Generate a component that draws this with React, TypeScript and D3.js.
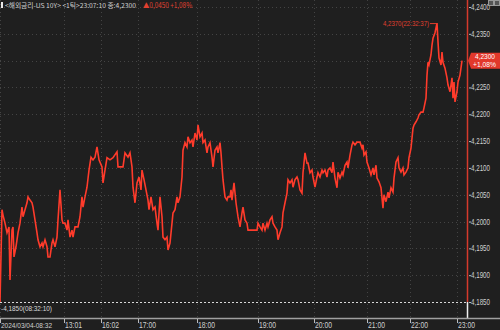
import React from "react";
import * as d3 from "d3";

// tick sequence number (trade count) and yield values
const seq = [0, 2, 3, 5, 7, 9, 10, 12, 13, 14, 16, 18, 20, 22, 23, 25, 27, 28, 30, 32, 33, 35, 37, 38, 40, 42, 43, 45, 47, 48, 50, 52, 53, 55, 57, 58, 60, 62, 63, 65, 67, 68, 70, 72, 73, 75, 78, 80, 82, 83, 85, 87, 89, 91, 93, 95, 97, 99, 102, 103, 105, 107, 110, 113, 117, 118, 121, 123, 125, 128, 130, 132, 133, 135, 137, 139, 141, 142, 144, 146, 148, 149, 151, 153, 155, 157, 158, 160, 162, 163, 165, 167, 168, 170, 172, 173, 175, 177, 178, 180, 182, 183, 185, 187, 188, 190, 192, 193, 195, 197, 198, 200, 202, 203, 205, 207, 208, 210, 212, 213, 215, 217, 218, 220, 221, 222, 223, 225, 227, 228, 230, 231, 232, 234, 236, 237, 238, 240, 242, 243, 245, 247, 248, 250, 253, 257, 258, 260, 262, 263, 265, 267, 268, 270, 272, 273, 275, 277, 278, 280, 282, 283, 285, 287, 288, 290, 292, 293, 295, 297, 298, 300, 302, 303, 305, 307, 308, 310, 312, 313, 315, 317, 318, 320, 322, 323, 325, 327, 328, 330, 332, 333, 335, 337, 338, 340, 342, 343, 345, 347, 348, 350, 352, 353, 355, 357, 360, 362, 363, 364, 366, 367, 369, 371, 373, 374, 376, 377, 379, 381, 382, 383, 384, 386, 388, 389, 391, 393, 394, 396, 398, 399, 401, 403, 404, 406, 408, 409, 411, 413, 414, 416, 418, 419, 421, 423, 424, 426, 427, 428, 429, 431, 432, 433, 435, 436, 437, 438, 439, 441, 442, 443, 445, 447, 448, 450, 452, 453, 454, 455, 457, 458, 460, 462];
const yields = [4.185, 4.2022, 4.2012, 4.1997, 4.1979, 4.199, 4.1891, 4.1984, 4.199, 4.1934, 4.1953, 4.1979, 4.1997, 4.2027, 4.2009, 4.2022, 4.2035, 4.2046, 4.204, 4.2035, 4.2027, 4.2003, 4.1979, 4.1966, 4.1953, 4.196, 4.1953, 4.1966, 4.1953, 4.1934, 4.1934, 4.196, 4.1966, 4.1953, 4.1971, 4.2003, 4.2059, 4.2003, 4.1997, 4.1997, 4.1984, 4.2003, 4.1971, 4.1984, 4.1971, 4.199, 4.199, 4.2009, 4.2046, 4.2027, 4.2046, 4.2064, 4.2096, 4.212, 4.2115, 4.212, 4.2139, 4.2115, 4.2102, 4.2072, 4.2096, 4.2119, 4.2115, 4.2119, 4.213, 4.2102, 4.2102, 4.2102, 4.2128, 4.212, 4.2128, 4.2102, 4.2064, 4.2035, 4.2072, 4.2083, 4.2059, 4.2096, 4.2078, 4.2059, 4.204, 4.2022, 4.2046, 4.2022, 4.2027, 4.1997, 4.1984, 4.2046, 4.2009, 4.1971, 4.1966, 4.1971, 4.1947, 4.196, 4.1997, 4.2016, 4.2022, 4.2046, 4.2035, 4.2046, 4.2083, 4.2133, 4.2147, 4.2139, 4.2158, 4.2147, 4.2152, 4.2139, 4.2165, 4.2152, 4.218, 4.2158, 4.2165, 4.2147, 4.2152, 4.2128, 4.2139, 4.2147, 4.212, 4.2102, 4.2133, 4.2139, 4.2128, 4.2147, 4.2128, 4.2102, 4.2078, 4.2046, 4.204, 4.2046, 4.2046, 4.2059, 4.204, 4.2072, 4.2035, 4.2022, 4.2009, 4.199, 4.2016, 4.2027, 4.2003, 4.1997, 4.1984, 4.1984, 4.1984, 4.1984, 4.1997, 4.199, 4.1984, 4.1997, 4.1984, 4.1997, 4.199, 4.2003, 4.2009, 4.1997, 4.199, 4.1984, 4.1966, 4.1979, 4.199, 4.2016, 4.2035, 4.2053, 4.2078, 4.2072, 4.2078, 4.2064, 4.2078, 4.2083, 4.2078, 4.2059, 4.2053, 4.2091, 4.2128, 4.2109, 4.2109, 4.2091, 4.2096, 4.2083, 4.2064, 4.2083, 4.2091, 4.2083, 4.2096, 4.2091, 4.2096, 4.2083, 4.2096, 4.21, 4.2091, 4.2111, 4.2081, 4.2063, 4.2092, 4.2081, 4.2092, 4.2087, 4.2105, 4.2111, 4.21, 4.2124, 4.2143, 4.2148, 4.2143, 4.2148, 4.2148, 4.2137, 4.2143, 4.2124, 4.213, 4.2111, 4.21, 4.2087, 4.21, 4.2087, 4.2105, 4.2081, 4.2074, 4.2063, 4.2044, 4.2025, 4.205, 4.2037, 4.2055, 4.2044, 4.2063, 4.2055, 4.2081, 4.2111, 4.2119, 4.21, 4.2092, 4.21, 4.2087, 4.2092, 4.21, 4.2119, 4.2137, 4.2174, 4.218, 4.2186, 4.2193, 4.2199, 4.2204, 4.2204, 4.2212, 4.223, 4.2273, 4.2297, 4.2292, 4.2311, 4.2329, 4.2342, 4.2352, 4.2361, 4.237, 4.2335, 4.2305, 4.2292, 4.2316, 4.2297, 4.2286, 4.2268, 4.2255, 4.2242, 4.2268, 4.223, 4.226, 4.2223, 4.2242, 4.226, 4.2273, 4.23];

const xTickSeq = [0, 64, 101, 138, 197, 258, 314, 367, 410, 457];
const xTickLabels = ["2024/03/04-08:32", "13:01", "16:02", "17:00", "18:00", "19:00", "20:00", "21:00", "22:00", "23:00"];
const yTicks = [4.24, 4.235, 4.23, 4.225, 4.22, 4.215, 4.21, 4.205, 4.2, 4.195, 4.19, 4.185];
const lastSeq = 467;
const lastValue = 4.23;
const change = "0,0450";
const changePct = "+1,08%";
const maxValue = 4.237;
const maxTime = "22:32:37";
const minValue = 4.185;
const minTime = "08:32:10";

const fmt = (v: number) => v.toFixed(4).replace(".", ",");

export default function App() {
  const W = 500, H = 330;
  const x = d3.scaleLinear().domain([0, lastSeq]).range([0, 467]);
  const y = d3.scaleLinear().domain([4.185, 4.24]).range([302, 7]);
  const pts = seq.map((s, i) => [x(s), y(yields[i])] as [number, number]);
  const line = d3.line()(pts) || "";
  const axisY = 318;
  const px = x(lastSeq);
  const maxIdx = yields.indexOf(d3.max(yields) as number);
  const mx = x(seq[maxIdx]);
  const my = y(maxValue);
  const cy = y(lastValue);
  const font = "'Liberation Sans', Arial, sans-serif";
  const kfont = "'Liberation Sans Narrow', 'Noto Sans CJK KR', 'Liberation Sans', sans-serif";
  const red = "#ff3b2b";

  return (
    <svg width={W} height={H} style={{ position: "fixed", left: 0, top: 0, display: "block" }}>
      <rect x={0} y={0} width={W} height={H} fill="#1f1f1f" />
      {/* grid */}
      {yTicks.map((t) => (
        <line key={"gy" + t} x1={0} x2={px} y1={Math.round(y(t)) + 0.5} y2={Math.round(y(t)) + 0.5}
          stroke="#444" strokeDasharray="1,3" strokeWidth={1} />
      ))}
      {xTickSeq.map((s) => (
        <line key={"gx" + s} x1={Math.round(x(s)) + 0.5} x2={Math.round(x(s)) + 0.5} y1={0} y2={axisY}
          stroke="#444" strokeDasharray="1,3" strokeWidth={1} />
      ))}
      {/* min dashed line */}
      <line x1={0} x2={px} y1={Math.round(y(minValue)) + 0.5} y2={Math.round(y(minValue)) + 0.5}
        stroke="#d8d8d8" strokeDasharray="2,2" strokeWidth={1} />
      {/* price line */}
      <path d={line} fill="none" stroke={red} strokeWidth={1.6} strokeLinejoin="miter" />
      {/* current vertical line */}
      <line x1={px + 0.5} x2={px + 0.5} y1={0} y2={y(minValue)} stroke="#d63a2c" strokeWidth={1.5} />
      <line x1={px + 0.5} x2={px + 0.5} y1={y(minValue)} y2={axisY} stroke="#f0f0f0" strokeWidth={1.5} />
      {/* x axis */}
      <line x1={0} x2={W} y1={axisY + 0.5} y2={axisY + 0.5} stroke="#a0a0a0" strokeWidth={1.6} />
      {xTickSeq.map((s, i) => {
        const long = xTickLabels[i].length > 6;
        return (
          <g key={"xt" + s}>
            <line x1={x(s) + 0.5} x2={x(s) + 0.5} y1={axisY + 1} y2={axisY + 5} stroke="#bbb" strokeWidth={1} />
            <text x={x(s) + 1} y={328} fontSize={long ? 6.8 : 8.5} fill="#cfcfcf" fontFamily={font}
              textLength={long ? 51 : 17} lengthAdjust="spacingAndGlyphs">{xTickLabels[i]}</text>
          </g>
        );
      })}
      {/* y axis labels */}
      {yTicks.filter((t) => Math.abs(y(t) - cy) > 8).map((t) => (
        <g key={"yt" + t}>
          <line x1={px + 2} x2={px + 4} y1={y(t) + 0.5} y2={y(t) + 0.5} stroke="#bbb" strokeWidth={1} />
          <text x={471} y={y(t) + 3} fontSize={8.5} fill="#cfcfcf" fontFamily={font}
            textLength={19} lengthAdjust="spacingAndGlyphs">{fmt(t)}</text>
        </g>
      ))}
      {/* current price box */}
      <path d={`M${px + 1},${cy} L${px + 4},${cy - 8} L${W},${cy - 8} L${W},${cy + 8} L${px + 4},${cy + 8} Z`} fill="#e2382b" />
      <text x={475} y={cy - 1.5} fontSize={7} fill="#fff" fontFamily={font} textLength={20} lengthAdjust="spacingAndGlyphs">{fmt(lastValue)}</text>
      <text x={473} y={cy + 6.5} fontSize={7} fill="#fff" fontFamily={font} textLength={23} lengthAdjust="spacingAndGlyphs">{changePct}</text>
      {/* max label */}
      <text x={383} y={my + 2.5} fontSize={8} fill="#e0402f" fontFamily={font} textLength={46} lengthAdjust="spacingAndGlyphs">{`${fmt(maxValue)}(${maxTime})`}</text>
      <path d={`M430,${my + 0.5} L${mx},${my + 0.5}`} stroke="#e0402f" strokeWidth={1} fill="none" />
      {/* min label */}
      <text x={1} y={311} fontSize={8} fill="#d8d8d8" fontFamily={font} textLength={51} lengthAdjust="spacingAndGlyphs">{`-${fmt(minValue)}(${minTime})`}</text>
      {/* header */}
      <rect x={1} y={2} width={2} height={6} fill="#e8e8e8" />
      <text x={5} y={8} fontSize={6.5} fill="#cfcfcf" fontFamily={kfont} textLength={131} lengthAdjust="spacingAndGlyphs">{`<해외금리-US 10Y> <1틱>23:07:10 종:${fmt(lastValue)}`}</text>
      <text x={143} y={8} fontSize={7} fill="#e0402f" fontFamily={kfont} textLength={49} lengthAdjust="spacingAndGlyphs">{`▲${change} ${changePct}`}</text>
      {/* top-right icons */}
      <rect x={488.5} y={0.5} width={5} height={5} fill="#555" stroke="#999" strokeWidth={1} />
      <rect x={494.5} y={0.5} width={5} height={5} fill="#555" stroke="#999" strokeWidth={1} />
    </svg>
  );
}
